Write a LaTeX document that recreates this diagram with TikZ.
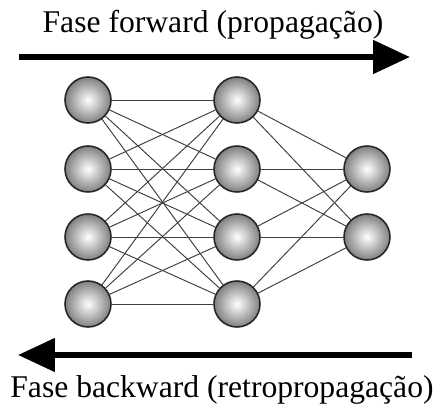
\documentclass[tikz,border=0pt]{standalone}
\usepackage{fontspec}
\setmainfont{Liberation Serif}
\usetikzlibrary{positioning, calc, arrows.meta}

\begin{document}
\begin{tikzpicture}[
  x=0.02cm, y=-0.02cm,
  font=\fontsize{18}{21}\selectfont,
  neuron/.style={circle, draw=black!85, line width=0.9pt, minimum size=0.92cm,
    inner sep=0pt, inner color=white, outer color=black!50},
  link/.style={black!75, line width=0.55pt},
  phase/.style={line width=3.5pt, -{Triangle[length=21pt, width=18.5pt]}},
]
% =====================================================================
% Frame (fixes the margins of the picture)
% =====================================================================
\useasboundingbox (0,0) rectangle (444,406);

% =====================================================================
% Phase arrows and their captions
% =====================================================================
\coordinate (fwdL) at (19,57);
\coordinate (fwdR) at (410,57);
\coordinate (bwdR) at (412,355);
\coordinate (bwdL) at (18,355);
\draw[phase] (fwdL) -- (fwdR);
\draw[phase] (bwdR) -- (bwdL);
\node[anchor=base] (fwdText) at (213,32) {Fase forward (propagação)};
\node[anchor=base] (bwdText) at (222,397) {Fase backward (retropropagação)};

% =====================================================================
% Neurons: input (4), hidden (4), output (2)
% =====================================================================
\foreach \i/\yy in {1/100, 2/169, 3/237, 4/304}{
  \node[neuron] (in\i)  at (88,\yy)  {};
  \node[neuron] (hid\i) at (237,\yy) {};
}
\foreach \k/\yy in {1/169, 2/237}{
  \node[neuron] (out\k) at (367,\yy) {};
}

% =====================================================================
% Connections (fully connected layers)
% =====================================================================
\foreach \i in {1,...,4}{
  \foreach \j in {1,...,4}{
    \draw[link] (in\i) -- (hid\j);
  }
  \foreach \k in {1,2}{
    \draw[link] (hid\i) -- (out\k);
  }
}

\end{tikzpicture}
\end{document}
